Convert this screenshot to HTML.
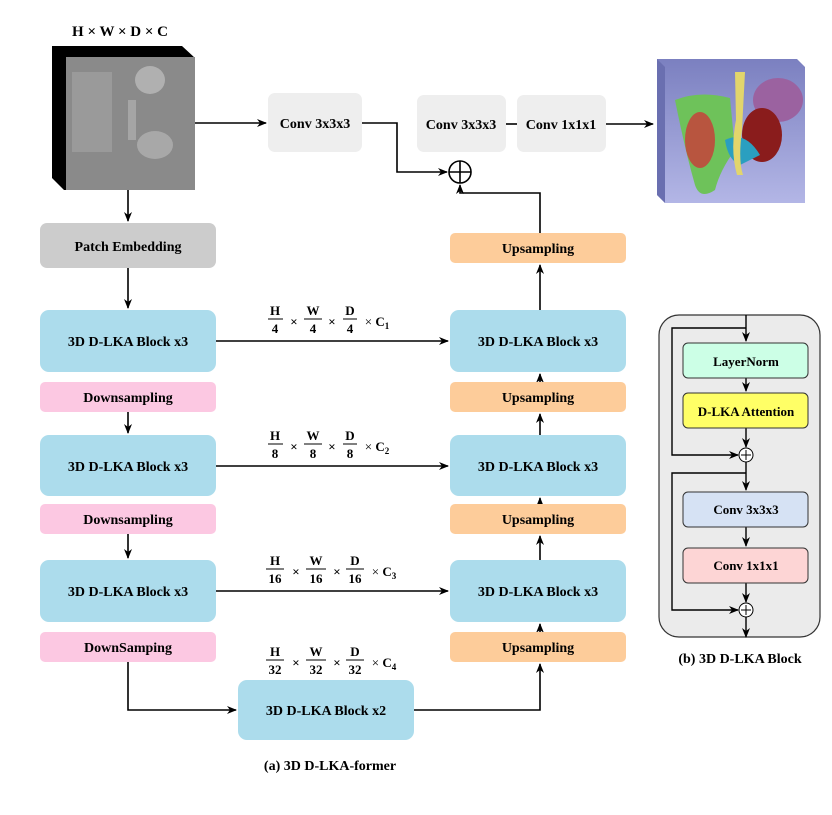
<!DOCTYPE html>
<html><head><meta charset="utf-8"><style>
html,body{margin:0;padding:0;background:#fff;}
svg{display:block;}
text{font-family:"Liberation Serif",serif;font-weight:bold;fill:#000;}
</style></head><body>
<svg width="832" height="815" viewBox="0 0 832 815" xmlns="http://www.w3.org/2000/svg">
<defs>
<marker id="ar" markerWidth="10" markerHeight="10" refX="9" refY="5" orient="auto" markerUnits="userSpaceOnUse">
<path d="M0,1 L10,5 L0,9 L3,5 Z" fill="#000"/></marker>
<linearGradient id="cube" x1="0" y1="0" x2="0" y2="1"><stop offset="0" stop-color="#7b80c0"/><stop offset="1" stop-color="#b3b6e6"/></linearGradient>
</defs>
<g stroke="#000" stroke-width="1.6" fill="none">
<!-- top -->
<line x1="195" y1="123" x2="266" y2="123" marker-end="url(#ar)"/>
<polyline points="362,123 397,123 397,172 447,172" marker-end="url(#ar)"/>
<line x1="506" y1="124" x2="517" y2="124"/>
<line x1="606" y1="124" x2="653" y2="124" marker-end="url(#ar)"/>
<polyline points="540,233 540,193 460,193 460,185" marker-end="url(#ar)"/>
<line x1="128" y1="190" x2="128" y2="221" marker-end="url(#ar)"/>
<line x1="128" y1="268" x2="128" y2="308" marker-end="url(#ar)"/>
<line x1="128" y1="412" x2="128" y2="433" marker-end="url(#ar)"/>
<line x1="128" y1="534" x2="128" y2="558" marker-end="url(#ar)"/>
<polyline points="128,662 128,710 236,710" marker-end="url(#ar)"/>
<polyline points="414,710 540,710 540,664" marker-end="url(#ar)"/>
<line x1="540" y1="632" x2="540" y2="624" marker-end="url(#ar)"/>
<line x1="540" y1="560" x2="540" y2="536" marker-end="url(#ar)"/>
<line x1="540" y1="504" x2="540" y2="498" marker-end="url(#ar)"/>
<line x1="540" y1="435" x2="540" y2="414" marker-end="url(#ar)"/>
<line x1="540" y1="382" x2="540" y2="374" marker-end="url(#ar)"/>
<line x1="540" y1="310" x2="540" y2="265" marker-end="url(#ar)"/>
<line x1="216" y1="341" x2="448" y2="341" marker-end="url(#ar)"/>
<line x1="216" y1="466" x2="448" y2="466" marker-end="url(#ar)"/>
<line x1="216" y1="591" x2="448" y2="591" marker-end="url(#ar)"/>
</g>
<circle cx="460" cy="172" r="11" fill="#fff" stroke="#000" stroke-width="1.6"/>
<path d="M449,172 H471 M460,161 V183" stroke="#000" stroke-width="1.6"/>

<!-- CT cube -->
<polygon points="52,46 182,46 195,58 195,190 64,190 52,178" fill="#000"/>
<rect x="66" y="57" width="129" height="133" fill="#8a8a8a"/>
<rect x="72" y="72" width="40" height="80" fill="#9a9a9a"/>
<ellipse cx="150" cy="80" rx="15" ry="14" fill="#b0b0b0"/>
<ellipse cx="155" cy="145" rx="18" ry="14" fill="#a8a8a8"/>
<rect x="128" y="100" width="8" height="40" fill="#a5a5a5"/>
<text x="120" y="36" font-size="15" text-anchor="middle">H × W × D × C</text>

<!-- organ cube -->
<polygon points="657,59 797,59 805,67 805,203 665,203 657,195" fill="url(#cube)"/>
<polygon points="657,59 665,67 665,203 657,195" fill="#6a6fb0"/>
<path d="M675,100 Q700,90 730,98 L735,150 Q720,170 715,190 Q700,200 695,185 Q685,150 675,100Z" fill="#6ec25a"/>
<ellipse cx="700" cy="140" rx="15" ry="28" fill="#b8553f"/>
<ellipse cx="778" cy="100" rx="25" ry="22" fill="#9b62a0"/>
<ellipse cx="762" cy="135" rx="20" ry="27" fill="#8a1c1c"/>
<path d="M725,140 Q745,130 760,155 L740,165 Q728,160 725,140Z" fill="#2a9fc0"/>
<path d="M735,72 L745,72 L742,130 Q738,160 743,175 L737,175 Q730,150 736,120Z" fill="#e2d56c"/>

<!-- boxes -->
<g>
<rect x="268" y="93" width="94" height="59" rx="7" fill="#eeeeee"/>
<rect x="417" y="95" width="89" height="57" rx="7" fill="#eeeeee"/>
<rect x="517" y="95" width="89" height="57" rx="7" fill="#eeeeee"/>
<rect x="40" y="223" width="176" height="45" rx="7" fill="#cccccc"/>
<rect x="40" y="310" width="176" height="62" rx="9" fill="#acdcec"/>
<rect x="40" y="435" width="176" height="61" rx="9" fill="#acdcec"/>
<rect x="40" y="560" width="176" height="62" rx="9" fill="#acdcec"/>
<rect x="450" y="310" width="176" height="62" rx="9" fill="#acdcec"/>
<rect x="450" y="435" width="176" height="61" rx="9" fill="#acdcec"/>
<rect x="450" y="560" width="176" height="62" rx="9" fill="#acdcec"/>
<rect x="238" y="680" width="176" height="60" rx="9" fill="#acdcec"/>
<rect x="40" y="382" width="176" height="30" rx="5" fill="#fcc8e2"/>
<rect x="40" y="504" width="176" height="30" rx="5" fill="#fcc8e2"/>
<rect x="40" y="632" width="176" height="30" rx="5" fill="#fcc8e2"/>
<rect x="450" y="233" width="176" height="30" rx="5" fill="#fdcc9a"/>
<rect x="450" y="382" width="176" height="30" rx="5" fill="#fdcc9a"/>
<rect x="450" y="504" width="176" height="30" rx="5" fill="#fdcc9a"/>
<rect x="450" y="632" width="176" height="30" rx="5" fill="#fdcc9a"/>
</g>
<g font-size="14" text-anchor="middle">
<text x="315" y="128">Conv 3x3x3</text>
<text x="461" y="129">Conv 3x3x3</text>
<text x="561" y="129">Conv 1x1x1</text>
<text x="128" y="251">Patch Embedding</text>
<text x="128" y="346">3D D-LKA Block x3</text>
<text x="128" y="471">3D D-LKA Block x3</text>
<text x="128" y="596">3D D-LKA Block x3</text>
<text x="538" y="346">3D D-LKA Block x3</text>
<text x="538" y="471">3D D-LKA Block x3</text>
<text x="538" y="596">3D D-LKA Block x3</text>
<text x="326" y="715">3D D-LKA Block x2</text>
<text x="128" y="402">Downsampling</text>
<text x="128" y="524">Downsampling</text>
<text x="128" y="652">DownSamping</text>
<text x="538" y="253">Upsampling</text>
<text x="538" y="402">Upsampling</text>
<text x="538" y="524">Upsampling</text>
<text x="538" y="652">Upsampling</text>
<text x="330" y="770">(a) 3D D-LKA-former</text>
<text x="740" y="663">(b) 3D D-LKA Block</text>
</g>

<!-- fraction labels -->
<g font-size="13" text-anchor="middle" stroke="none">
<g transform="translate(0,0)">
<text x="275" y="315">H</text><line x1="268" y1="319" x2="283" y2="319" stroke="#000"/><text x="275" y="333">4</text>
<text x="294" y="326" font-weight="normal">×</text>
<text x="313" y="315">W</text><line x1="304" y1="319" x2="322" y2="319" stroke="#000"/><text x="313" y="333">4</text>
<text x="332" y="326" font-weight="normal">×</text>
<text x="350" y="315">D</text><line x1="343" y1="319" x2="357" y2="319" stroke="#000"/><text x="350" y="333">4</text>
<text x="377" y="326"><tspan font-weight="normal">×</tspan> C<tspan font-size="9" dy="3">1</tspan></text>
</g>
<g>
<text x="275" y="440">H</text><line x1="268" y1="444" x2="283" y2="444" stroke="#000"/><text x="275" y="458">8</text>
<text x="294" y="451" font-weight="normal">×</text>
<text x="313" y="440">W</text><line x1="304" y1="444" x2="322" y2="444" stroke="#000"/><text x="313" y="458">8</text>
<text x="332" y="451" font-weight="normal">×</text>
<text x="350" y="440">D</text><line x1="343" y1="444" x2="357" y2="444" stroke="#000"/><text x="350" y="458">8</text>
<text x="377" y="451"><tspan font-weight="normal">×</tspan> C<tspan font-size="9" dy="3">2</tspan></text>
</g>
<g>
<text x="275" y="565">H</text><line x1="266" y1="569" x2="284" y2="569" stroke="#000"/><text x="275" y="583">16</text>
<text x="296" y="576" font-weight="normal">×</text>
<text x="316" y="565">W</text><line x1="306" y1="569" x2="326" y2="569" stroke="#000"/><text x="316" y="583">16</text>
<text x="337" y="576" font-weight="normal">×</text>
<text x="355" y="565">D</text><line x1="346" y1="569" x2="364" y2="569" stroke="#000"/><text x="355" y="583">16</text>
<text x="384" y="576"><tspan font-weight="normal">×</tspan> C<tspan font-size="9" dy="3">3</tspan></text>
</g>
<g>
<text x="275" y="656">H</text><line x1="266" y1="660" x2="284" y2="660" stroke="#000"/><text x="275" y="674">32</text>
<text x="296" y="667" font-weight="normal">×</text>
<text x="316" y="656">W</text><line x1="306" y1="660" x2="326" y2="660" stroke="#000"/><text x="316" y="674">32</text>
<text x="337" y="667" font-weight="normal">×</text>
<text x="355" y="656">D</text><line x1="346" y1="660" x2="364" y2="660" stroke="#000"/><text x="355" y="674">32</text>
<text x="384" y="667"><tspan font-weight="normal">×</tspan> C<tspan font-size="9" dy="3">4</tspan></text>
</g>
</g>

<!-- right panel -->
<rect x="659" y="315" width="161" height="322" rx="20" fill="#ebebeb" stroke="#333" stroke-width="1.2"/>
<g stroke="#000" stroke-width="1.4" fill="none">
<polyline points="746,315 746,341" marker-end="url(#ar)"/>
<polyline points="746,328 672,328 672,455 738,455" marker-end="url(#ar)"/>
<line x1="746" y1="378" x2="746" y2="391" marker-end="url(#ar)"/>
<line x1="746" y1="428" x2="746" y2="447" marker-end="url(#ar)"/>
<line x1="746" y1="461" x2="746" y2="490" marker-end="url(#ar)"/>
<polyline points="746,473 672,473 672,610 738,610" marker-end="url(#ar)"/>
<line x1="746" y1="527" x2="746" y2="546" marker-end="url(#ar)"/>
<line x1="746" y1="583" x2="746" y2="602" marker-end="url(#ar)"/>
<line x1="746" y1="616" x2="746" y2="637" marker-end="url(#ar)"/>
</g>
<rect x="683" y="343" width="125" height="35" rx="5" fill="#ccffe6" stroke="#333"/>
<rect x="683" y="393" width="125" height="35" rx="5" fill="#ffff66" stroke="#333"/>
<rect x="683" y="492" width="125" height="35" rx="5" fill="#d6e2f4" stroke="#333"/>
<rect x="683" y="548" width="125" height="35" rx="5" fill="#fdd5d5" stroke="#333"/>
<circle cx="746" cy="455" r="7" fill="#fff" stroke="#000"/>
<path d="M741,455 H751 M746,450 V460" stroke="#000"/>
<circle cx="746" cy="610" r="7" fill="#fff" stroke="#000"/>
<path d="M741,610 H751 M746,605 V615" stroke="#000"/>
<g font-size="13" text-anchor="middle">
<text x="746" y="366">LayerNorm</text>
<text x="746" y="416">D-LKA Attention</text>
<text x="746" y="514">Conv 3x3x3</text>
<text x="746" y="570">Conv 1x1x1</text>
</g>
</svg>
</body></html>
